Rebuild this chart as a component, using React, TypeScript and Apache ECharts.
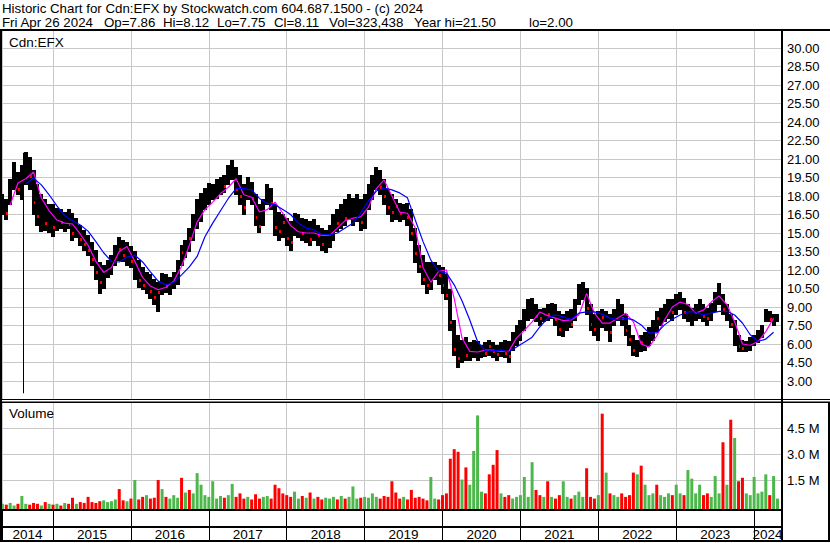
import React, { useEffect, useRef } from 'react';
import * as echarts from 'echarts';

// ---------- data ----------
const title1 = 'Historic Chart for Cdn:EFX by Stockwatch.com 604.687.1500 - (c) 2024';
const title2Parts = ['Fri Apr 26 2024', 'Op=7.86', 'Hi=8.12', 'Lo=7.75', 'Cl=8.11', 'Vol=323,438', 'Year hi=21.50', 'lo=2.00'];
const symbolLabel = 'Cdn:EFX';
const volumeLabel = 'Volume';

const axisStart = 2014.345; // first date shown (decimal year)
const axisEnd = 2024.345;   // last date shown (decimal year)
const barStart = 2014.35;   // date of first price bar
const barStep = 0.05;       // years between price bars
const maStart = 2014.35;
const maStep = 0.1;

const years = ['2014', '2015', '2016', '2017', '2018', '2019', '2020', '2021', '2022', '2023', '2024'];
const yearBounds = [2015, 2016, 2017, 2018, 2019, 2020, 2021, 2022, 2023, 2024];

const high = [
  18.1, 17.7, 19.3, 20.7, 19.9, 20.5, 21.5, 21.1, 20.1, 18.9,
  18.1, 17.7, 17.3, 17.3, 17.0, 16.9, 16.7, 16.9, 16.6, 16.2,
  15.6, 15.2, 14.8, 14.2, 13.6, 12.6, 12.4, 12.8, 13.2, 14.0,
  14.6, 14.4, 14.2, 13.9, 13.5, 12.8, 12.2, 11.8, 11.6, 11.2,
  11.0, 11.7, 11.6, 11.4, 11.8, 12.8, 14.0, 14.4, 15.4, 16.5,
  17.7, 18.2, 18.6, 19.0, 18.9, 19.3, 19.5, 19.7, 20.5, 20.9,
  20.3, 19.7, 18.9, 19.5, 19.1, 18.1, 17.3, 17.7, 18.9, 18.6,
  17.3, 16.7, 16.5, 16.2, 15.9, 16.6, 16.5, 16.2, 16.1, 15.9,
  16.1, 15.6, 15.4, 15.2, 15.6, 16.5, 16.9, 17.3, 17.7, 18.1,
  17.8, 18.1, 17.7, 18.1, 18.9, 19.7, 20.3, 20.1, 19.3, 18.5,
  18.1, 17.7, 17.4, 17.3, 17.4, 16.9, 15.4, 14.0, 13.2, 12.6,
  12.6, 12.6, 12.4, 12.2, 11.6, 10.4, 7.9, 6.7, 6.3, 6.5,
  6.1, 6.3, 6.2, 5.9, 6.1, 6.3, 6.1, 5.9, 6.1, 6.3,
  6.2, 6.9, 7.5, 7.9, 8.8, 9.6, 9.7, 9.2, 8.8, 8.9,
  9.2, 9.3, 9.2, 8.6, 8.4, 8.6, 8.8, 9.6, 10.8, 11.0,
  10.5, 9.2, 8.4, 8.6, 8.8, 8.6, 8.4, 8.8, 9.6, 9.2,
  8.4, 7.5, 6.7, 6.3, 6.7, 6.9, 7.3, 7.9, 8.6, 8.9,
  9.2, 9.6, 9.6, 10.0, 10.2, 9.7, 9.2, 8.9, 9.2, 9.6,
  9.2, 8.9, 9.3, 10.2, 10.9, 10.0, 9.2, 8.4, 7.9, 6.7,
  6.3, 6.2, 6.5, 6.7, 7.1, 7.5, 8.8, 8.6, 8.4, 8.4,
];

const low = [
  16.5, 16.1, 17.3, 18.5, 18.1, 17.7, 18.9, 18.5, 16.5, 15.6,
  15.1, 15.2, 15.0, 14.7, 15.2, 15.4, 15.1, 15.4, 14.4, 14.6,
  14.0, 13.6, 13.2, 12.4, 11.2, 10.1, 10.5, 11.4, 11.6, 12.4,
  12.8, 12.7, 12.4, 12.2, 11.2, 10.6, 10.4, 10.1, 9.7, 9.2,
  8.6, 10.0, 10.2, 10.0, 10.5, 10.8, 12.4, 13.0, 13.5, 14.4,
  15.4, 15.9, 16.9, 17.3, 17.7, 17.8, 18.1, 18.3, 18.9, 19.3,
  18.1, 17.3, 16.5, 17.7, 17.3, 15.6, 15.0, 15.6, 17.3, 16.9,
  14.8, 14.4, 14.6, 14.0, 13.6, 14.8, 14.6, 14.4, 14.2, 14.0,
  14.4, 14.0, 13.6, 13.4, 13.8, 14.4, 15.1, 15.4, 15.6, 16.1,
  15.6, 15.9, 15.2, 15.4, 16.9, 17.7, 18.5, 18.1, 17.3, 16.5,
  15.9, 16.1, 15.9, 16.1, 15.6, 14.4, 12.6, 11.8, 10.8, 10.1,
  10.4, 11.2, 10.8, 10.1, 9.6, 7.1, 5.1, 4.1, 4.5, 4.7,
  4.7, 4.9, 4.7, 4.9, 5.0, 5.1, 4.9, 4.7, 5.0, 4.9,
  4.5, 5.5, 5.9, 6.3, 7.1, 7.9, 8.1, 7.8, 7.5, 7.8,
  7.9, 8.1, 7.5, 6.7, 6.6, 7.1, 7.3, 7.9, 9.2, 9.6,
  8.4, 7.1, 6.7, 6.3, 7.3, 7.1, 6.2, 7.5, 7.9, 7.5,
  6.7, 5.9, 5.1, 5.0, 5.4, 5.5, 5.9, 6.3, 7.0, 7.5,
  7.8, 8.1, 7.9, 8.4, 8.8, 8.1, 7.8, 7.5, 7.9, 8.1,
  7.8, 7.5, 7.9, 8.6, 9.2, 8.4, 7.9, 7.3, 5.9, 5.4,
  5.4, 5.4, 5.5, 5.9, 6.1, 6.5, 7.8, 7.8, 7.5, 7.8,
];

const close = [
  17.0, 16.6, 18.9, 19.8, 18.6, 18.3, 20.6, 19.6, 17.5, 16.4,
  16.8, 15.8, 16.5, 15.5, 16.2, 15.9, 16.3, 15.7, 15.0, 15.3,
  14.5, 14.1, 13.6, 12.9, 11.8, 11.0, 11.5, 12.3, 12.5, 13.1,
  13.7, 13.2, 13.5, 12.7, 11.9, 11.2, 10.8, 10.6, 10.3, 9.8,
  10.2, 11.2, 10.7, 10.9, 11.5, 12.5, 13.5, 13.8, 14.6, 15.8,
  16.9, 17.4, 17.8, 18.3, 18.0, 18.7, 19.0, 18.8, 19.6, 20.2,
  18.6, 18.0, 17.1, 18.9, 17.8, 16.3, 15.6, 16.8, 18.2, 17.4,
  15.5, 15.2, 15.9, 14.6, 14.3, 15.6, 15.8, 15.0, 15.4, 14.5,
  15.2, 14.8, 14.1, 14.2, 15.1, 15.9, 15.8, 16.6, 16.2, 17.2,
  16.5, 17.0, 15.9, 17.3, 18.3, 19.1, 19.4, 18.7, 18.0, 17.1,
  16.7, 17.2, 16.6, 16.9, 16.3, 15.0, 13.4, 12.3, 11.3, 10.8,
  11.9, 12.1, 11.6, 10.8, 10.0, 7.8, 5.6, 4.9, 5.4, 5.1,
  5.4, 5.7, 5.2, 5.5, 5.3, 5.8, 5.4, 5.2, 5.6, 5.3,
  5.0, 6.5, 6.8, 7.4, 7.8, 8.9, 8.5, 8.3, 8.1, 8.6,
  8.4, 8.9, 8.0, 7.2, 7.4, 7.9, 7.6, 9.1, 10.1, 10.4,
  8.9, 7.6, 7.2, 7.5, 8.2, 7.8, 7.0, 8.4, 9.0, 8.1,
  7.1, 6.4, 5.5, 5.8, 6.2, 6.4, 7.0, 7.5, 8.1, 8.4,
  8.7, 9.2, 8.6, 9.4, 9.8, 8.6, 8.4, 8.2, 8.8, 8.7,
  8.3, 8.1, 8.9, 9.6, 10.2, 8.8, 8.4, 7.6, 6.3, 5.8,
  5.7, 5.9, 6.0, 6.3, 6.9, 7.2, 8.4, 8.0, 7.8, 8.11,
];

// u = up (green volume), d = down (red volume)
const direction =
  'uduuduuddd' + 'ududududdu' + 'dddddduuuu' + 'ddududdudd' + 'duduuududu' +
  'uuuuuuuduu' + 'ddduddduud' + 'ddddduudud' + 'udduuududu' + 'uuduuuuddd' +
  'dddudddddd' + 'uuddddddud' + 'uuuuddddud' + 'duuuuuuddu' + 'dudduuduuu' +
  'dddududuud' + 'ddduduuudu' + 'uuduuduuuu' + 'dduuududud' + 'duuuuuuduu';

// volume in millions of shares
const volume = [
  0.3, 0.25, 0.35, 0.2, 0.3, 0.75, 0.3, 0.25, 0.35, 0.3, 0.2, 0.4, 0.3,
  0.25, 0.3, 0.2, 0.35, 0.3, 0.65, 0.3, 0.4, 0.35, 0.7, 0.4, 0.35, 0.45, 0.5, 0.4, 0.45, 0.55, 1.15, 0.5, 0.45,
  0.6, 1.67, 0.55, 0.7, 0.8, 0.6, 0.65, 1.67, 1.15, 0.7, 0.6, 0.8, 0.65, 1.8, 0.95, 1.1, 0.9, 2.07, 1.4, 0.8,
  0.7, 1.6, 0.6, 0.75, 0.65, 0.8, 1.45, 0.7, 0.9, 0.6, 0.7, 0.55, 0.85, 0.6, 0.7, 0.75, 0.6, 1.4, 1.2, 0.9,
  0.8, 0.7, 1.0, 0.6, 0.75, 0.65, 0.95, 0.6, 0.7, 0.55, 0.65, 0.6, 0.7, 0.55, 0.75, 0.6, 0.7, 1.3, 0.6, 0.65,
  0.7, 0.65, 0.9, 0.7, 0.6, 0.75, 0.7, 1.6, 0.95, 0.6, 0.7, 0.55, 1.1, 0.65, 0.7, 0.6, 0.5, 1.85, 0.6, 0.55,
  0.8, 0.9, 2.9, 3.45, 3.3, 1.7, 2.4, 1.4, 3.35, 5.4, 1.0, 0.9, 2.0, 2.55, 3.4, 0.9, 0.7, 0.8, 0.6, 0.7,
  0.8, 1.85, 0.7, 2.7, 1.1, 0.8, 0.7, 1.6, 0.7, 0.6, 0.8, 1.6, 0.7, 0.6, 0.8, 1.0, 0.7, 2.35, 0.7, 0.6,
  0.8, 5.5, 2.1, 0.9, 0.8, 0.7, 0.9, 0.7, 0.8, 2.1, 2.0, 2.5, 1.4, 0.8, 0.9, 1.4, 0.8, 0.7, 0.9, 0.8,
  1.4, 0.9, 0.8, 2.25, 1.75, 0.9, 1.4, 0.8, 0.9, 0.7, 1.9, 0.9, 3.85, 1.4, 5.15, 4.1, 1.6, 1.8, 0.9, 0.8,
  1.85, 0.9, 1.0, 2.0, 0.8, 1.9, 0.6,
];

// single bad tick (the long thin line in mid 2014): [date, low, high]
const spikes = [[2014.615, 2.0, 21.5]];

// moving averages, one value every maStep years
const maFast = [
  null, 17.27, 19.05, 19.4, 19.95, 17.85, 16.8, 16.05, 15.8, 15.73,
  14.9, 14.0, 12.7, 11.8, 12.2, 13.5, 13.9, 12.7, 11.4, 10.7,
  10.4, 10.6, 11.1, 12.3, 14.0, 15.9, 16.9, 17.5, 18.2, 18.7,
  19.4, 18.1, 17.9, 16.7, 16.9, 17.5, 16.6, 15.6, 15.1, 15.0,
  15.0, 14.8, 14.8, 15.4, 16.0, 16.2, 16.3, 17.1, 18.6, 19.3,
  18.0, 16.7, 16.6, 15.4, 12.2, 11.0, 11.9, 12.0, 9.7, 6.5,
  5.4, 5.35, 5.5, 5.5, 5.4, 5.4, 6.5, 7.1, 7.8, 8.6,
  8.3, 8.1, 7.9, 7.95, 8.35, 10.1, 8.5, 7.7, 7.7, 8.1,
  8.5, 7.8, 6.0, 5.75, 6.65, 7.95, 9.0, 9.4, 9.2, 8.5,
  8.75, 9.4, 9.9, 9.2, 7.8, 6.0, 5.9, 6.2, 7.0, 8.1,
];
const maSlow = [
  null, null, null, 19.0, 19.45, 18.9, 18.1, 17.2, 16.4, 16.0,
  15.65, 15.15, 14.3, 13.4, 12.7, 12.65, 13.05, 13.2, 12.65, 11.85,
  11.1, 10.8, 11.0, 11.6, 12.25, 13.1, 14.7, 15.8, 16.8, 17.8,
  18.6, 18.6, 18.5, 17.8, 17.4, 17.3, 16.9, 16.5, 15.8, 15.4,
  15.25, 14.9, 14.85, 15.0, 15.4, 15.8, 16.6, 17.6, 18.4, 18.65,
  18.5, 18.25, 17.85, 16.05, 14.3, 12.8, 11.9, 11.75, 10.8, 9.5,
  7.95, 6.2, 5.45, 5.45, 5.5, 5.35, 5.75, 6.15, 6.55, 7.4,
  8.1, 8.35, 8.2, 8.0, 8.5, 8.6, 8.6, 8.4, 8.1, 7.95,
  8.1, 7.95, 7.55, 6.9, 6.9, 7.55, 8.0, 8.35, 8.6, 8.6,
  8.35, 8.5, 8.65, 8.65, 8.35, 7.7, 6.75, 6.2, 6.4, 6.95,
];

// ---------- option ----------
const FONT = '"Liberation Sans", Arial, sans-serif';
const GRID_GRAY = '#c8c8c8';
const RED = '#ff0000';
const GREEN = '#4cb84c';
const title2X = [2, 104, 163, 217, 274, 329, 414, 529];

const barDate = (i: number) => barStart + barStep * i;
const maDate = (k: number) => maStart + maStep * k;

const priceData = high.map((h, i) => [barDate(i), low[i], h, close[i], direction[i] === 'd' ? 1 : 0]);
const volData = volume.map((v, i) => ({
  value: [barDate(i), v],
  itemStyle: { color: direction[i] === 'd' ? RED : GREEN },
}));
const fastData = maFast.map((v, k) => [maDate(k), v]);
const slowData = maSlow.map((v, k) => [maDate(k), v]);
const yearCenters = years.map((y, j) => {
  const s = j === 0 ? axisStart : yearBounds[j - 1];
  const e = j === years.length - 1 ? axisEnd : yearBounds[j];
  return [(s + e) / 2, 0.5];
});

const xAxisBase = (gridIndex: number, splitColor: string | null) => ({
  type: 'value',
  gridIndex,
  min: axisStart,
  max: axisEnd,
  splitNumber: 10,
  axisLine: { show: false },
  axisTick: { show: false },
  axisLabel: { show: false },
  splitLine: splitColor ? { show: true, lineStyle: { color: splitColor, width: 1 } } : { show: false },
});

const blackRect = (x: number, y: number, w: number, h: number) => ({
  type: 'rect',
  shape: { x, y, width: w, height: h },
  style: { fill: '#000' },
  z: 100,
  silent: true,
});

const headerText = (text: string, x: number, y: number, size: number) => ({
  type: 'text',
  x,
  y,
  z: 50,
  style: { text, fill: '#000', font: `${size}px ${FONT}`, align: 'left', verticalAlign: 'middle' },
});

const option: any = {
  animation: false,
  backgroundColor: '#ffffff',
  textStyle: { fontFamily: FONT },
  grid: [
    { left: 2, top: 29.5, width: 779, height: 370 },
    { left: 2, top: 402, width: 779, height: 104 },
    { left: 2, top: 402, width: 779, height: 107 },
    { left: 2, top: 509, width: 779, height: 33 },
  ],
  xAxis: [
    xAxisBase(0, GRID_GRAY),
    xAxisBase(1, GRID_GRAY),
    xAxisBase(2, null),
    xAxisBase(3, '#000000'),
  ],
  yAxis: [
    {
      type: 'value',
      gridIndex: 0,
      position: 'right',
      min: 1.5,
      max: 31.5,
      interval: 1.5,
      axisLine: { show: false },
      axisTick: { show: false },
      axisLabel: {
        margin: 6,
        color: '#000',
        fontSize: 13,
        fontFamily: FONT,
        showMinLabel: false,
        showMaxLabel: false,
        formatter: (v: number) => v.toFixed(2),
      },
      splitLine: { show: true, lineStyle: { color: GRID_GRAY, width: 1 } },
    },
    {
      type: 'value',
      gridIndex: 1,
      position: 'right',
      min: 0,
      max: 6,
      interval: 1.5,
      axisLine: { show: false },
      axisTick: { show: false },
      axisLabel: {
        margin: 6,
        color: '#000',
        fontSize: 13,
        fontFamily: FONT,
        showMinLabel: false,
        showMaxLabel: false,
        formatter: (v: number) => v.toFixed(1) + ' M',
      },
      splitLine: { show: true, showMinLine: false, showMaxLine: false, lineStyle: { color: GRID_GRAY, width: 1 } },
    },
    { type: 'value', gridIndex: 2, min: 0, max: 6.173, show: false },
    { type: 'value', gridIndex: 3, min: 0, max: 1, show: false },
  ],
  series: [
    {
      type: 'custom',
      name: 'price',
      xAxisIndex: 0,
      yAxisIndex: 0,
      z: 2,
      clip: true,
      encode: { x: 0, y: [1, 2] },
      data: priceData,
      renderItem: (params: any, api: any) => {
        const t = api.value(0);
        const pHi = api.coord([t, api.value(2)]);
        const pLo = api.coord([t, api.value(1)]);
        const pC = api.coord([t, api.value(3)]);
        const cx = Math.round(pHi[0]);
        const top = Math.floor(pHi[1]);
        const h = Math.max(1, Math.ceil(pLo[1]) - top);
        const children: any[] = [
          { type: 'rect', shape: { x: cx - 2, y: top, width: 4, height: h }, style: { fill: '#000' } },
        ];
        if (api.value(4) === 1) {
          children.push({
            type: 'rect',
            shape: { x: cx, y: Math.round(pC[1]) - 1, width: 2, height: 3 },
            style: { fill: RED },
          });
        }
        return { type: 'group', children };
      },
    },
    {
      type: 'custom',
      name: 'spike',
      xAxisIndex: 0,
      yAxisIndex: 0,
      z: 2,
      encode: { x: 0, y: [1, 2] },
      data: spikes,
      renderItem: (params: any, api: any) => {
        const t = api.value(0);
        const pHi = api.coord([t, api.value(2)]);
        const pLo = api.coord([t, api.value(1)]);
        const cx = Math.round(pHi[0]);
        return {
          type: 'rect',
          shape: { x: cx, y: pHi[1], width: 1, height: pLo[1] - pHi[1] },
          style: { fill: '#000' },
        };
      },
    },
    {
      type: 'line',
      name: 'fast',
      xAxisIndex: 0,
      yAxisIndex: 0,
      z: 3,
      data: fastData,
      showSymbol: false,
      symbol: 'none',
      lineStyle: { color: '#ff00ff', width: 1.2 },
    },
    {
      type: 'line',
      name: 'slow',
      xAxisIndex: 0,
      yAxisIndex: 0,
      z: 3,
      data: slowData,
      showSymbol: false,
      symbol: 'none',
      lineStyle: { color: '#0000ff', width: 1.2 },
    },
    {
      type: 'bar',
      name: 'volume',
      xAxisIndex: 2,
      yAxisIndex: 2,
      barWidth: 3,
      data: volData,
    },
    {
      type: 'custom',
      name: 'years',
      xAxisIndex: 3,
      yAxisIndex: 3,
      data: yearCenters,
      renderItem: (params: any, api: any) => {
        const p = api.coord([api.value(0), api.value(1)]);
        return {
          type: 'text',
          x: p[0],
          y: 534.3,
          style: {
            text: years[params.dataIndex],
            fill: '#000',
            font: `13.5px ${FONT}`,
            align: 'center',
            verticalAlign: 'middle',
          },
        };
      },
    },
  ],
  graphic: [
    headerText(title1, 2, 8.7, 13.3),
    ...title2Parts.map((s, j) => headerText(s, title2X[j], 22.8, 13.3)),
    headerText(symbolLabel, 9, 42.4, 13.5),
    headerText(volumeLabel, 9, 413.4, 13.5),
    blackRect(0, 29, 830, 2),
    blackRect(0, 29, 2, 513),
    blackRect(781, 29, 2, 513),
    blackRect(0, 399, 830, 1),
    blackRect(0, 401.5, 830, 1.5),
    blackRect(0, 509, 783, 2),
    blackRect(0, 526, 783, 2),
    blackRect(0, 540, 830, 2),
    blackRect(828, 402, 2, 140),
  ],
};

export default function App() {
  const ref = useRef<HTMLDivElement>(null);
  useEffect(() => {
    if (!ref.current) return;
    const chart = echarts.init(ref.current, null, { renderer: 'svg' });
    chart.setOption(option);
    return () => chart.dispose();
  }, []);
  return (
    <div
      ref={ref}
      style={{ position: 'absolute', left: 0, top: 0, width: 830, height: 543, background: '#fff' }}
    />
  );
}
